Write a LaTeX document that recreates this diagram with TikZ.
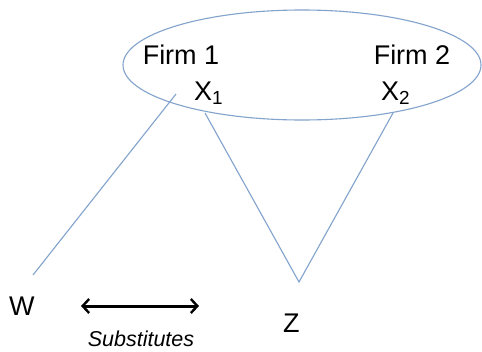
\documentclass[tikz,border=0pt]{standalone}
\usepackage{fontspec}
\setmainfont{Liberation Sans}
\usetikzlibrary{arrows.meta}
\definecolor{linkblue}{RGB}{130,163,204}
\tikzset{
  link/.style={draw=linkblue, line width=1.1pt},
  lbl/.style={inner sep=0pt, font=\fontsize{27}{30}\selectfont},
  small/.style={inner sep=0pt, font=\fontsize{21.5}{23}\selectfont\itshape},
  dbl/.style={line width=3pt, {Straight Barb[length=6.5pt,width=14pt,line width=2.4pt]}-{Straight Barb[length=6.5pt,width=14pt,line width=2.4pt]}}
}
\begin{document}
\begin{tikzpicture}[x=1pt,y=-1pt]
\useasboundingbox (0,0) rectangle (482,351);
\fill[white] (0,0) rectangle (482,351);
% group ellipse
\draw[link] (302,65) ellipse [x radius=179, y radius=55];
% labels
\node[lbl, anchor=base] (f1) at (181,64) {Firm 1};
\node[lbl, anchor=base] (f2) at (412,64) {Firm 2};
\node[lbl, anchor=base west] (x1) at (194,100) {X\textsubscript{1}};
\node[lbl, anchor=base west] (x2) at (381,100) {X\textsubscript{2}};
\node[lbl, anchor=base west] (w) at (9,315) {W};
\node[lbl, anchor=base west] (z) at (283,332) {Z};
\node[small, anchor=base] (sub) at (141,346.5) {Substitutes};
% connector end points
\coordinate (x1a) at (176,94);
\coordinate (wend) at (33,275);
\coordinate (x1b) at (205,113);
\coordinate (zend) at (299,282);
\coordinate (x2b) at (393,113);
\draw[link] (x1a) -- (wend);
\draw[link] (x1b) -- (zend) -- (x2b);
% substitutes arrow
\coordinate (al) at (81,306);
\coordinate (ar) at (199,306);
\draw[dbl] (al) -- (ar);
\end{tikzpicture}
\end{document}
